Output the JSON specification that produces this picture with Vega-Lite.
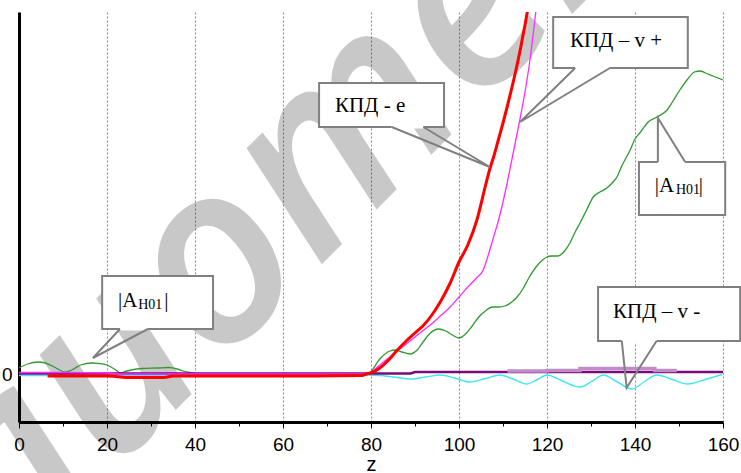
{
  "$schema": "https://vega.github.io/schema/vega-lite/v6.json",
  "width": 704,
  "height": 410,
  "autosize": {"type": "none"},
  "padding": {"left": 19, "top": 12, "right": 18, "bottom": 51},
  "background": "white",
  "config": {
    "view": {"stroke": null},
    "font": "Liberation Sans",
    "axis": {
      "domainColor": "black",
      "domainWidth": 3,
      "labelColor": "black",
      "labelFont": "Liberation Sans",
      "labelFontSize": 19,
      "tickColor": "black",
      "titleColor": "black",
      "titleFont": "Liberation Sans",
      "titleFontSize": 20,
      "titleFontWeight": "normal"
    }
  },
  "datasets": {
    "stamp": [{"word": "библиотека", "z": 37, "v": 76}],
    "curves": [
      {"s": "cyan", "z": 0, "v": -1.5}, {"s": "cyan", "z": 20, "v": -1.5}, {"s": "cyan", "z": 35, "v": -1}, {"s": "cyan", "z": 79, "v": -1},
      {"s": "cyan", "z": 82, "v": -1.5}, {"s": "cyan", "z": 85, "v": -3}, {"s": "cyan", "z": 89, "v": -5}, {"s": "cyan", "z": 92.5, "v": -3},
      {"s": "cyan", "z": 95.7, "v": -1}, {"s": "cyan", "z": 99, "v": -4}, {"s": "cyan", "z": 102.5, "v": -8}, {"s": "cyan", "z": 106, "v": -4.5},
      {"s": "cyan", "z": 109.3, "v": -1}, {"s": "cyan", "z": 112.5, "v": -5.5}, {"s": "cyan", "z": 115.4, "v": -10}, {"s": "cyan", "z": 117.8, "v": -5.5},
      {"s": "cyan", "z": 120, "v": -1}, {"s": "cyan", "z": 123.5, "v": -7}, {"s": "cyan", "z": 127.5, "v": -13}, {"s": "cyan", "z": 130.3, "v": -7},
      {"s": "cyan", "z": 132.8, "v": -1}, {"s": "cyan", "z": 136, "v": -8}, {"s": "cyan", "z": 139.3, "v": -15}, {"s": "cyan", "z": 142, "v": -8},
      {"s": "cyan", "z": 145, "v": -1}, {"s": "cyan", "z": 148.5, "v": -5.5}, {"s": "cyan", "z": 152, "v": -10}, {"s": "cyan", "z": 156, "v": -5.5},
      {"s": "cyan", "z": 159.8, "v": -0.5},

      {"s": "grn", "z": 0, "v": 6}, {"s": "grn", "z": 2, "v": 10}, {"s": "grn", "z": 4.3, "v": 12}, {"s": "grn", "z": 6, "v": 11},
      {"s": "grn", "z": 8, "v": 7}, {"s": "grn", "z": 10.5, "v": 2}, {"s": "grn", "z": 12, "v": 4}, {"s": "grn", "z": 14, "v": 9},
      {"s": "grn", "z": 16.6, "v": 11}, {"s": "grn", "z": 18, "v": 10.5}, {"s": "grn", "z": 20, "v": 9}, {"s": "grn", "z": 22, "v": 4},
      {"s": "grn", "z": 23, "v": 1}, {"s": "grn", "z": 24.5, "v": 3}, {"s": "grn", "z": 26, "v": 4.5}, {"s": "grn", "z": 28, "v": 5.5},
      {"s": "grn", "z": 31.4, "v": 6}, {"s": "grn", "z": 34, "v": 6.5}, {"s": "grn", "z": 36, "v": 5}, {"s": "grn", "z": 37.3, "v": 3},
      {"s": "grn", "z": 39.5, "v": 1}, {"s": "grn", "z": 41, "v": 0}, {"s": "grn", "z": 78, "v": 0}, {"s": "grn", "z": 79.8, "v": 2},
      {"s": "grn", "z": 82, "v": 15}, {"s": "grn", "z": 84.3, "v": 23}, {"s": "grn", "z": 85.5, "v": 24}, {"s": "grn", "z": 87, "v": 22},
      {"s": "grn", "z": 88.9, "v": 20}, {"s": "grn", "z": 90.5, "v": 24}, {"s": "grn", "z": 92, "v": 33}, {"s": "grn", "z": 93.5, "v": 41},
      {"s": "grn", "z": 95.3, "v": 45}, {"s": "grn", "z": 97, "v": 43}, {"s": "grn", "z": 98.5, "v": 39}, {"s": "grn", "z": 100, "v": 36},
      {"s": "grn", "z": 101.5, "v": 40}, {"s": "grn", "z": 103, "v": 48}, {"s": "grn", "z": 104.5, "v": 57}, {"s": "grn", "z": 106, "v": 63},
      {"s": "grn", "z": 107.5, "v": 67}, {"s": "grn", "z": 109, "v": 67}, {"s": "grn", "z": 110.5, "v": 68}, {"s": "grn", "z": 112, "v": 72},
      {"s": "grn", "z": 113.2, "v": 77}, {"s": "grn", "z": 114.5, "v": 85}, {"s": "grn", "z": 116, "v": 97}, {"s": "grn", "z": 117.5, "v": 107},
      {"s": "grn", "z": 119, "v": 114}, {"s": "grn", "z": 120, "v": 117}, {"s": "grn", "z": 121, "v": 118}, {"s": "grn", "z": 122.5, "v": 118},
      {"s": "grn", "z": 124, "v": 123}, {"s": "grn", "z": 125.2, "v": 131}, {"s": "grn", "z": 126.4, "v": 142}, {"s": "grn", "z": 127.5, "v": 151},
      {"s": "grn", "z": 129, "v": 164}, {"s": "grn", "z": 130.5, "v": 177}, {"s": "grn", "z": 132, "v": 182}, {"s": "grn", "z": 133.6, "v": 186},
      {"s": "grn", "z": 135, "v": 192}, {"s": "grn", "z": 135.9, "v": 197}, {"s": "grn", "z": 137, "v": 208}, {"s": "grn", "z": 138.9, "v": 224},
      {"s": "grn", "z": 140, "v": 235}, {"s": "grn", "z": 141.1, "v": 241}, {"s": "grn", "z": 143, "v": 252}, {"s": "grn", "z": 145, "v": 257},
      {"s": "grn", "z": 147.3, "v": 264}, {"s": "grn", "z": 148.5, "v": 272}, {"s": "grn", "z": 150.2, "v": 284}, {"s": "grn", "z": 152, "v": 295},
      {"s": "grn", "z": 153.5, "v": 302}, {"s": "grn", "z": 154.8, "v": 303}, {"s": "grn", "z": 156, "v": 301}, {"s": "grn", "z": 157.7, "v": 298},
      {"s": "grn", "z": 160, "v": 294},

      {"s": "purp", "z": 0, "v": 0.5}, {"s": "purp", "z": 89, "v": 0.5}, {"s": "purp", "z": 90, "v": 2}, {"s": "purp", "z": 160, "v": 2},

      {"s": "orch", "z": 111, "v": 3}, {"s": "orch", "z": 120, "v": 3}, {"s": "orch", "z": 120, "v": 3.5}, {"s": "orch", "z": 127.5, "v": 3.5},
      {"s": "orch", "z": 127.5, "v": 5.5}, {"s": "orch", "z": 144.5, "v": 5.5}, {"s": "orch", "z": 144.5, "v": 3.5}, {"s": "orch", "z": 149.5, "v": 3.5},

      {"s": "mag", "z": 0, "v": 1.5}, {"s": "mag", "z": 10, "v": 1.5}, {"s": "mag", "z": 20, "v": 1}, {"s": "mag", "z": 22, "v": 0},
      {"s": "mag", "z": 79, "v": 0}, {"s": "mag", "z": 80, "v": 2}, {"s": "mag", "z": 82, "v": 9}, {"s": "mag", "z": 84, "v": 16},
      {"s": "mag", "z": 86, "v": 23}, {"s": "mag", "z": 88, "v": 30}, {"s": "mag", "z": 90, "v": 37}, {"s": "mag", "z": 92, "v": 44},
      {"s": "mag", "z": 94, "v": 51}, {"s": "mag", "z": 96, "v": 59}, {"s": "mag", "z": 98, "v": 67}, {"s": "mag", "z": 100, "v": 77},
      {"s": "mag", "z": 102, "v": 87}, {"s": "mag", "z": 104, "v": 96}, {"s": "mag", "z": 105.5, "v": 104}, {"s": "mag", "z": 106, "v": 110},
      {"s": "mag", "z": 107, "v": 124}, {"s": "mag", "z": 108, "v": 139}, {"s": "mag", "z": 109, "v": 154}, {"s": "mag", "z": 110, "v": 172},
      {"s": "mag", "z": 111, "v": 192}, {"s": "mag", "z": 112, "v": 214}, {"s": "mag", "z": 113, "v": 236}, {"s": "mag", "z": 114, "v": 258},
      {"s": "mag", "z": 115, "v": 282}, {"s": "mag", "z": 116, "v": 310}, {"s": "mag", "z": 117, "v": 345}, {"s": "mag", "z": 118, "v": 382},

      {"s": "red", "z": 6.5, "v": -2}, {"s": "red", "z": 20, "v": -2}, {"s": "red", "z": 22, "v": -2.5}, {"s": "red", "z": 25, "v": -3.5},
      {"s": "red", "z": 33, "v": -3.5}, {"s": "red", "z": 35, "v": -2}, {"s": "red", "z": 65, "v": -2}, {"s": "red", "z": 78, "v": -1.5},
      {"s": "red", "z": 79, "v": 0}, {"s": "red", "z": 80, "v": 1}, {"s": "red", "z": 82, "v": 6}, {"s": "red", "z": 84, "v": 14},
      {"s": "red", "z": 86, "v": 24}, {"s": "red", "z": 88, "v": 33}, {"s": "red", "z": 90, "v": 41}, {"s": "red", "z": 92, "v": 49},
      {"s": "red", "z": 94, "v": 60}, {"s": "red", "z": 96, "v": 74}, {"s": "red", "z": 98, "v": 91}, {"s": "red", "z": 100, "v": 112},
      {"s": "red", "z": 102, "v": 129}, {"s": "red", "z": 104, "v": 153}, {"s": "red", "z": 106, "v": 188}, {"s": "red", "z": 107, "v": 205},
      {"s": "red", "z": 108, "v": 219}, {"s": "red", "z": 109, "v": 235}, {"s": "red", "z": 110, "v": 251}, {"s": "red", "z": 111, "v": 268},
      {"s": "red", "z": 112, "v": 286}, {"s": "red", "z": 113, "v": 305}, {"s": "red", "z": 114, "v": 326}, {"s": "red", "z": 115, "v": 349},
      {"s": "red", "z": 116, "v": 374}, {"s": "red", "z": 117, "v": 400}
    ],
    "boxes": [
      {"c": "e", "z": 68.2, "z2": 96.6, "v": 247, "v2": 291},
      {"c": "vp", "z": 121.4, "z2": 152.0, "v": 306, "v2": 357},
      {"c": "ar", "z": 140.9, "z2": 160.5, "v": 159, "v2": 212},
      {"c": "al", "z": 18.9, "z2": 44.1, "v": 45, "v2": 98},
      {"c": "vm", "z": 131.6, "z2": 163.9, "v": 33, "v2": 87}
    ],
    "gaps": [
      {"c": "e", "z": 84.7, "z2": 91.9, "v": 247},
      {"c": "vp", "z": 126.4, "z2": 134.3, "v": 306},
      {"c": "ar", "z": 145.2, "z2": 151.4, "v": 212},
      {"c": "al", "z": 22.95, "z2": 29.3, "v": 45},
      {"c": "vm", "z": 137.0, "z2": 144.9, "v": 33}
    ],
    "pointers": [
      {"c": "e", "o": 1, "z": 84.7, "v": 247}, {"c": "e", "o": 2, "z": 107.0, "v": 207}, {"c": "e", "o": 3, "z": 91.9, "v": 247},
      {"c": "vp", "o": 1, "z": 126.4, "v": 306}, {"c": "vp", "o": 2, "z": 113.9, "v": 252}, {"c": "vp", "o": 3, "z": 134.3, "v": 306},
      {"c": "ar", "o": 1, "z": 145.2, "v": 212}, {"c": "ar", "o": 2, "z": 145.2, "v": 256}, {"c": "ar", "o": 3, "z": 151.4, "v": 212},
      {"c": "al", "o": 1, "z": 22.95, "v": 45}, {"c": "al", "o": 2, "z": 16.8, "v": 16}, {"c": "al", "o": 3, "z": 29.3, "v": 45},
      {"c": "vm", "o": 1, "z": 137.0, "v": 33}, {"c": "vm", "o": 2, "z": 138.1, "v": -13.7}, {"c": "vm", "o": 3, "z": 144.9, "v": 33}
    ],
    "labels": [
      {"t": "КПД - e", "z": 71.8, "v": 262, "k": "main"},
      {"t": "КПД – v +", "z": 125.2, "v": 327, "k": "main"},
      {"t": "КПД – v -", "z": 135.0, "v": 56, "k": "main"},
      {"t": "|A", "z": 22.5, "v": 67, "k": "main"},
      {"t": "H01", "z": 27.1, "v": 65, "k": "sub"},
      {"t": "|", "z": 33.0, "v": 67, "k": "main"},
      {"t": "|A", "z": 144.5, "v": 182.5, "k": "main"},
      {"t": "H01", "z": 149.3, "v": 180.5, "k": "sub"},
      {"t": "|", "z": 154.5, "v": 182.5, "k": "main"}
    ]
  },
  "layer": [
    {
      "data": {"name": "stamp"},
      "mark": {"type": "text", "font": "Open Sans", "fontStyle": "italic", "fontWeight": 600, "fontSize": 250, "angle": -45, "align": "center", "baseline": "middle", "color": "#000000", "opacity": 0.21},
      "encoding": {
        "x": {"field": "z", "type": "quantitative", "title": "z",
          "scale": {"domain": [0, 160], "nice": false, "zero": false},
          "axis": {
            "values": [0, 5, 10, 15, 20, 25, 30, 35, 40, 45, 50, 55, 60, 65, 70, 75, 80, 85, 90, 95, 100, 105, 110, 115, 120, 125, 130, 135, 140, 145, 150, 155, 160],
            "labelExpr": "datum.value % 20 === 0 ? datum.label : ''",
            "labelOverlap": false,
            "labelFlush": false,
            "labelPadding": 7,
            "grid": true,
            "gridColor": "#8c8c96",
            "gridDash": [2, 2],
            "gridWidth": 1,
            "gridOpacity": {"condition": {"test": "datum.value % 20 === 0", "value": 1}, "value": 0},
            "tickSize": {"condition": {"test": "datum.value % 20 === 0", "value": 6}, "value": 4},
            "tickWidth": 1,
            "titlePadding": 0
          }
        },
        "y": {"field": "v", "type": "quantitative", "title": null,
          "scale": {"domain": [-48, 362], "nice": false, "zero": false},
          "axis": {"values": [0], "grid": false, "ticks": false, "labelPadding": 7}
        },
        "text": {"field": "word"}
      }
    },
    {
      "data": {"name": "curves"},
      "transform": [{"filter": "datum.s === 'cyan'"}],
      "mark": {"type": "line", "clip": true, "color": "#3fe6f2", "strokeWidth": 1.4, "interpolate": "monotone"},
      "encoding": {"x": {"field": "z", "type": "quantitative", "title": "z"}, "y": {"field": "v", "type": "quantitative", "title": null}}
    },
    {
      "data": {"name": "curves"},
      "transform": [{"filter": "datum.s === 'grn'"}],
      "mark": {"type": "line", "clip": true, "color": "#2f9a2f", "strokeWidth": 1.3, "interpolate": "monotone"},
      "encoding": {"x": {"field": "z", "type": "quantitative", "title": "z"}, "y": {"field": "v", "type": "quantitative", "title": null}}
    },
    {
      "data": {"name": "curves"},
      "transform": [{"filter": "datum.s === 'purp'"}],
      "mark": {"type": "line", "clip": true, "color": "#7a0a7a", "strokeWidth": 2.5},
      "encoding": {"x": {"field": "z", "type": "quantitative", "title": "z"}, "y": {"field": "v", "type": "quantitative", "title": null}}
    },
    {
      "data": {"name": "curves"},
      "transform": [{"filter": "datum.s === 'orch'"}],
      "mark": {"type": "line", "clip": true, "color": "#c08cc8", "strokeWidth": 3.5},
      "encoding": {"x": {"field": "z", "type": "quantitative", "title": "z"}, "y": {"field": "v", "type": "quantitative", "title": null}}
    },
    {
      "data": {"name": "curves"},
      "transform": [{"filter": "datum.s === 'mag'"}],
      "mark": {"type": "line", "clip": true, "color": "#ff2bff", "strokeWidth": 1.3, "interpolate": "monotone"},
      "encoding": {"x": {"field": "z", "type": "quantitative", "title": "z"}, "y": {"field": "v", "type": "quantitative", "title": null}}
    },
    {
      "data": {"name": "curves"},
      "transform": [{"filter": "datum.s === 'red'"}],
      "mark": {"type": "line", "clip": true, "color": "#ff0000", "strokeWidth": 3, "interpolate": "monotone"},
      "encoding": {"x": {"field": "z", "type": "quantitative", "title": "z"}, "y": {"field": "v", "type": "quantitative", "title": null}}
    },
    {
      "data": {"name": "boxes"},
      "mark": {"type": "rect", "fill": "white", "stroke": "#808080", "strokeWidth": 2},
      "encoding": {
        "x": {"field": "z", "type": "quantitative", "title": "z"}, "x2": {"field": "z2"},
        "y": {"field": "v", "type": "quantitative", "title": null}, "y2": {"field": "v2"}
      }
    },
    {
      "data": {"name": "gaps"},
      "mark": {"type": "rule", "color": "white", "strokeWidth": 3},
      "encoding": {
        "x": {"field": "z", "type": "quantitative", "title": "z"}, "x2": {"field": "z2"},
        "y": {"field": "v", "type": "quantitative", "title": null}
      }
    },
    {
      "data": {"name": "pointers"},
      "mark": {"type": "line", "color": "#808080", "strokeWidth": 2},
      "encoding": {
        "x": {"field": "z", "type": "quantitative", "title": "z"},
        "y": {"field": "v", "type": "quantitative", "title": null},
        "detail": {"field": "c"},
        "order": {"field": "o", "type": "quantitative"}
      }
    },
    {
      "data": {"name": "labels"},
      "transform": [{"filter": "datum.k === 'main'"}],
      "mark": {"type": "text", "font": "Liberation Serif", "fontSize": 21, "align": "left", "baseline": "alphabetic", "color": "black"},
      "encoding": {
        "x": {"field": "z", "type": "quantitative", "title": "z"},
        "y": {"field": "v", "type": "quantitative", "title": null},
        "text": {"field": "t"}
      }
    },
    {
      "data": {"name": "labels"},
      "transform": [{"filter": "datum.k === 'sub'"}],
      "mark": {"type": "text", "font": "Liberation Serif", "fontSize": 14, "align": "left", "baseline": "alphabetic", "color": "black"},
      "encoding": {
        "x": {"field": "z", "type": "quantitative", "title": "z"},
        "y": {"field": "v", "type": "quantitative", "title": null},
        "text": {"field": "t"}
      }
    }
  ]
}
